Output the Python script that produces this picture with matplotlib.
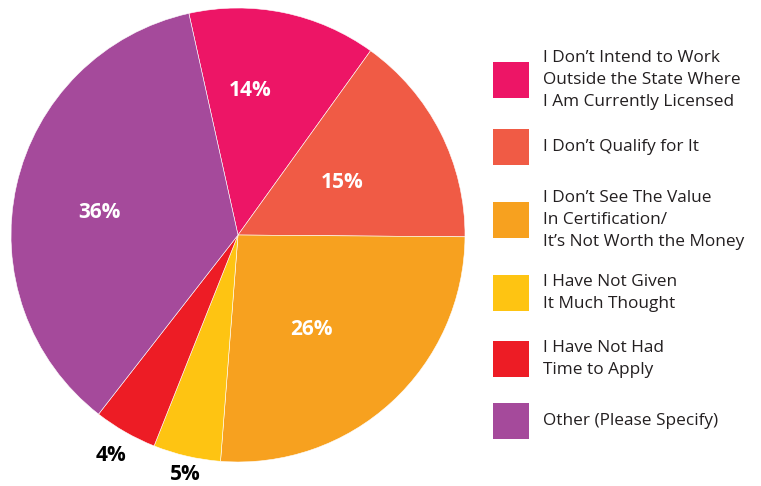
import numpy as np
import matplotlib

matplotlib.use("Agg")
import matplotlib.pyplot as plt
from matplotlib.patches import Rectangle

plt.rcParams["font.family"] = ["Open Sans", "DejaVu Sans"]

# datos del grafico (porciones, etiquetas como aparecen)
labels = [
    "I Don\u2019t Intend to Work\nOutside the State Where\nI Am Currently Licensed",
    "I Don\u2019t Qualify for It",
    "I Don\u2019t See The Value\nIn Certification/\nIt\u2019s Not Worth the Money",
    "I Have Not Given\nIt Much Thought",
    "I Have Not Had\nTime to Apply",
    "Other (Please Specify)",
]
shares = [13.4, 15.2, 26.1, 4.8, 4.5, 36.0]
pct_labels = ["14%", "15%", "26%", "5%", "4%", "36%"]
colors = ["#ED1566", "#F05B45", "#F7A11F", "#FEC412", "#ED1C25", "#A54A9B"]

# estilo de etiquetas: fraccion de radio, ajuste angular, color
pct_radius = [0.65, 0.52, 0.52, 1.07, 1.11, 0.62]
pct_nudge = [7.0, 1.0, -4.0, 0.5, -0.5, 2.5]
pct_color = ["white", "white", "white", "black", "black", "white"]

W, H = 761, 486
fig = plt.figure(figsize=(W / 100, H / 100), dpi=100)
ax = fig.add_axes([0, 0, 1, 1])

cx, cy, R = 238, H - 235, 227
wedges, _ = ax.pie(shares, colors=colors, startangle=102.5, counterclock=False,
                   center=(cx, cy), radius=R,
                   wedgeprops=dict(edgecolor="white", linewidth=0.4))
ax.set_xlim(0, W)
ax.set_ylim(0, H)
ax.set_aspect("equal")
ax.axis("off")

for w, lab, rf, nd, c in zip(wedges, pct_labels, pct_radius, pct_nudge, pct_color):
    mid = np.deg2rad((w.theta1 + w.theta2) / 2 + nd)
    ax.text(cx + rf * R * np.cos(mid), cy + rf * R * np.sin(mid), lab,
            ha="center", va="center_baseline", fontsize=15, fontweight="bold",
            color=c)

# leyenda manual
box_tops = [62, 129, 202, 275, 341, 403]
for lab, col, top in zip(labels, colors, box_tops):
    ax.add_patch(Rectangle((493, H - top - 36), 36, 36, facecolor=col,
                           edgecolor="none"))
    ax.text(543, H - top - 18, lab, ha="left", va="center", fontsize=12.4,
            color="#231F20", linespacing=1.5)

fig.savefig("out.png", dpi=100)
